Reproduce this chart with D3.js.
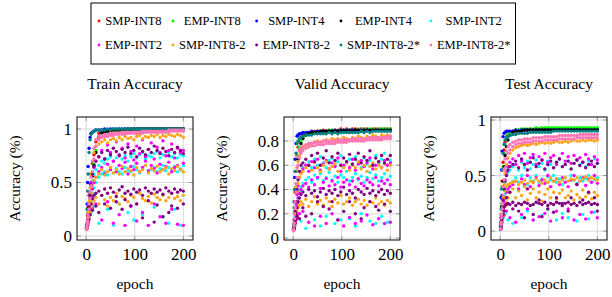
<!DOCTYPE html>
<html><head><meta charset="utf-8">
<script src="https://cdn.jsdelivr.net/npm/d3@7"></script>
<style>body{margin:0;background:#fff} svg{display:block}</style>
</head><body><svg id="chart" width="612" height="297"></svg>
<script>
const epochs = [1,2,3,4,6,8,10,13,16,20, 26,32,38,44,50,56,62,68,74,80, 86,92,98,104,110,116,122,128,134,140, 146,152,158,164,170,176,182,188,194,200];

const seriesNames = ["SMP-INT8","EMP-INT8","SMP-INT4","EMP-INT4","SMP-INT2","EMP-INT2","SMP-INT8-2","EMP-INT8-2","SMP-INT8-2*","EMP-INT8-2*"];
const seriesColors = ["#ff0000","#00ff00","#0000ff","#000000","#00ffff","#ff00ff","#ffa51a","#800080","#008080","#ff74b4"];
const xTicks = [0, 100, 200];

// ---- train accuracy (each series = list of runs) ----
const trSMP8 = [[.08,.12,.19,.27,.38,.49,.58,.68,.76,.88, .96,.97,.98,.98,.99,.99,.99,.99,.99,1, .99,1,1,.99,1,1,1,1,1,1, 1,1,1,1,1,1,1,1,1,1]];
const trEMP8 = [[.08,.11,.15,.2,.28,.38,.47,.57,.67,.8, .93,.96,.97,.98,.98,.99,.99,.99,.99,.99, .99,1,.99,1,1,1,1,1,1,1, 1,1,1,1,1,1,1,1,1,1]];
const trSMP4 = [[.1,.3,.5,.65,.82,.92,.96,.97,.98,.99, .99,.99,1,.99,1,1,1,1,1,1, 1,1,1,1,1,1,1,1,1,1, 1,1,1,1,1,1,1,1,1,1]];
const trEMP4 = [[.07,.1,.14,.19,.27,.35,.45,.56,.66,.78, .92,.96,.97,.98,.98,.99,.99,.99,.99,.99, 1,.99,1,1,1,1,1,1,1,1, 1,1,1,1,1,1,1,1,1,1]];
const trSMP2 = [
  [.08,.12,.17,.22,.3,.38,.45,.52,.58,.62, .66,.7,.68,.72,.74,.7,.73,.76,.72,.75, .7,.74,.77,.73,.76,.78,.72,.75,.74,.77, .79,.73,.76,.75,.78,.74,.77,.73,.76,.75],
  [.07,.1,.13,.17,.22,.28,.33,.4,.45,.5, .55,.58,.6,.57,.62,.59,.63,.6,.58,.64, .61,.6,.65,.62,.59,.63,.66,.6,.62,.64, .6,.63,.66,.61,.64,.62,.65,.6,.63,.66],
  [.07,.09,.12,null,.18,null,.22,null,.28,null, .12,null,null,.25,null,.1,null,.3,null,null, .22,null,.15,null,null,.2,null,.1,null,.27, null,null,.18,null,.12,null,.25,null,.1,null]];
const trEMP2 = [
  [.08,.11,.15,.21,.3,.4,.5,.58,.64,.7, .74,.8,.72,.85,.78,.7,.88,.76,.82,.73, .86,.79,.71,.84,.77,.9,.74,.81,.87,.72, .83,.78,.89,.75,.8,.86,.73,.82,.78,.8],
  [.07,.09,.13,.17,.23,.3,.37,.44,.5,.55, .6,.64,.58,.67,.62,.7,.6,.66,.63,.69, .58,.65,.62,.68,.6,.64,.7,.61,.66,.63, .59,.67,.62,.65,.69,.6,.64,.66,.62,.68],
  [.07,.09,.11,.14,null,.2,null,.26,null,.3, null,.15,null,.32,null,.12,null,.2,null,.1, null,.28,null,.14,null,.22,null,.1,null,.3, null,.18,null,.12,null,.25,null,.11,null,.1]];
const trSMP82 = [
  [.07,.1,.15,.22,.32,.45,.58,.7,.78,.84, .86,.88,.9,.87,.9,.91,.89,.92,.9,.93, .91,.92,.9,.93,.94,.91,.93,.92,.94,.93, .95,.92,.94,.93,.95,.94,.93,.95,.94,.92],
  [.07,.09,.13,.18,.25,.33,.4,.47,.52,.55, .58,.62,.57,.6,.64,.59,.62,.58,.65,.6, .63,.61,.57,.64,.6,.62,.66,.59,.63,.61, .65,.6,.62,.64,.58,.63,.61,.65,.62,.6],
  [.06,.08,.1,.14,.18,.22,.26,.3,.33,.36, .3,.38,.34,.28,.36,.33,.4,.3,.37,.35, .32,.38,.36,.3,.4,.35,.33,.37,.31,.39, .36,.34,.38,.33,.36,.4,.35,.37,.33,.38]];
const trEMP82 = [
  [.07,.1,.14,.2,.28,.38,.48,.58,.65,.7, .74,.78,.72,.8,.76,.82,.79,.75,.81,.78, .83,.77,.8,.74,.82,.79,.76,.81,.78,.84, .8,.77,.82,.79,.75,.81,.78,.83,.8,.77],
  [.07,.09,.12,.15,.2,.25,.3,.35,.38,.4, .42,.38,.44,.4,.45,.41,.37,.43,.46,.4, .42,.39,.44,.41,.43,.38,.45,.42,.4,.44, .41,.43,.39,.45,.42,.4,.44,.41,.43,.42],
  [.07,.08,.1,.13,.16,.2,null,.24,null,.28, .22,null,.3,null,.26,null,.32,null,.25,.34, null,.28,null,.3,null,.17,null,.33,null,.13, .29,null,.18,null,.22,.28,null,.26,null,.3]];
const trSMP82s = [[.1,.25,.42,.58,.78,.9,.95,.97,.98,.99, .99,.99,.99,1,.99,1,1,1,1,1, 1,1,1,1,1,1,1,1,1,1, 1,1,1,1,1,1,1,1,1,1]];
const trEMP82s = [
  [.07,.1,.14,.2,.3,.42,.55,.7,.82,.9, .93,.94,.95,.95,.96,.96,.96,.96,.97,.97, .97,.97,.97,.97,.97,.98,.98,.98,.98,.98, .98,.98,.98,.98,.99,.99,.99,.99,.99,.99],
  [.06,.08,.12,.17,.25,.35,.47,.6,.72,.84, .9,.92,.93,.93,.94,.94,.95,.95,.95,.95, .96,.96,.96,.96,.96,.96,.97,.97,.97,.97, .97,.97,.97,.97,.97,.98,.98,.98,.98,.98]];

// ---- valid accuracy ----
const vaSMP8 = [[.08,.15,.25,.38,.55,.68,.75,.8,.83,.85, .86,.87,.87,.88,.88,.88,.89,.88,.89,.89, .89,.89,.9,.89,.9,.89,.9,.9,.89,.9, .9,.9,.89,.9,.9,.9,.9,.9,.9,.9]];
const vaEMP8 = [[.07,.12,.2,.3,.45,.58,.68,.75,.8,.83, .85,.86,.87,.87,.88,.88,.88,.88,.89,.89, .89,.88,.89,.89,.89,.89,.89,.89,.9,.89, .9,.89,.9,.9,.89,.9,.9,.9,.9,.9]];
const vaSMP4 = [[.1,.3,.5,.65,.78,.84,.85,.86,.86,.87, .87,.87,.88,.87,.88,.88,.88,.88,.88,.88, .89,.88,.89,.88,.89,.89,.89,.89,.89,.89, .89,.89,.89,.89,.89,.89,.89,.89,.89,.89]];
const vaEMP4 = [[.07,.12,.2,.3,.42,.55,.65,.72,.78,.82, .85,.86,.87,.87,.87,.88,.88,.88,.88,.88, .88,.88,.88,.89,.88,.89,.88,.89,.89,.88, .89,.89,.89,.89,.89,.89,.89,.89,.89,.89]];
const vaSMP2 = [
  [.07,.1,.15,.21,.28,.36,.43,.5,.55,.58, .6,.63,.58,.65,.6,.67,.62,.58,.64,.66, .6,.63,.68,.59,.62,.65,.6,.67,.63,.58, .66,.61,.64,.6,.68,.62,.65,.7,.6,.64],
  [.07,.09,.12,.17,.22,.28,.33,.38,.42,.45, .48,.5,.46,.52,.49,.53,.47,.5,.54,.48, .51,.46,.52,.5,.55,.47,.5,.53,.48,.51, .46,.5,.54,.49,.52,.47,.5,.53,.48,.51],
  [.07,.09,.11,null,.16,null,.2,null,.14,null, .08,null,null,.15,null,.1,null,.18,null,null, .12,null,.15,null,null,.16,null,.1,null,.2, null,null,.14,null,.12,null,.18,null,.13,null]];
const vaEMP2 = [
  [.07,.1,.15,.2,.28,.36,.43,.5,.54,.57, .6,.55,.63,.58,.65,.56,.61,.64,.57,.62, .59,.66,.55,.6,.63,.58,.65,.56,.61,.64, .59,.62,.66,.57,.6,.63,.58,.64,.6,.62],
  [.07,.09,.12,.16,.22,.28,.33,.37,.4,.43, .45,.42,.48,.44,.5,.41,.46,.49,.43,.47, .44,.5,.42,.46,.48,.44,.47,.42,.49,.45, .43,.48,.46,.44,.5,.43,.47,.45,.48,.44],
  [.07,.08,.1,.13,null,.17,null,.2,null,.22, null,.13,null,.1,null,.18,null,.12,null,.2, null,.15,null,.1,null,.17,null,.12,null,.14, null,.19,null,.11,null,.16,null,.12,null,.13]];
const vaSMP82 = [
  [.07,.12,.2,.3,.42,.55,.63,.68,.72,.74, .76,.77,.78,.79,.8,.79,.8,.81,.8,.82, .81,.82,.8,.83,.82,.81,.83,.82,.84,.83, .82,.84,.83,.85,.84,.83,.85,.84,.85,.84],
  [.07,.1,.15,.22,.3,.38,.45,.5,.53,.55, .58,.6,.56,.62,.58,.55,.6,.63,.57,.59, .61,.55,.6,.58,.62,.56,.6,.58,.63,.57, .6,.55,.59,.62,.57,.6,.58,.61,.56,.6],
  [.07,.09,.12,.15,.19,.22,.25,.27,.3,.28, .32,.26,.3,.34,.28,.31,.27,.33,.3,.26, .32,.29,.35,.28,.3,.33,.27,.3,.32,.28, .31,.27,.3,.29,.33,.28,.3,.27,.31,.29]];
const vaEMP82 = [
  [.07,.1,.15,.22,.3,.4,.48,.55,.6,.62, .65,.6,.68,.63,.7,.6,.66,.72,.62,.67, .64,.7,.6,.66,.63,.69,.61,.65,.7,.62, .67,.64,.72,.6,.66,.63,.68,.62,.65,.68],
  [.07,.09,.12,.16,.2,.25,.3,.33,.36,.38, .35,.4,.37,.39,.34,.38,.41,.36,.39,.37, .4,.35,.38,.42,.36,.39,.37,.33,.4,.38, .36,.41,.37,.39,.35,.38,.4,.36,.39,.37],
  [.07,.08,.1,.12,.15,.18,null,.16,null,.25, .18,null,.2,null,.3,null,.26,null,.24,.3, null,.15,null,.22,null,.3,null,.2,null,.16, .25,null,.3,null,.26,.23,null,.28,null,.22]];
const vaSMP82s = [[.1,.25,.4,.55,.7,.78,.8,.82,.83,.84, .85,.85,.85,.86,.86,.86,.86,.86,.87,.86, .87,.86,.87,.87,.87,.87,.87,.87,.87,.88, .87,.88,.87,.88,.88,.88,.88,.88,.88,.88]];
const vaEMP82s = [
  [.07,.12,.2,.3,.45,.58,.67,.72,.74,.76, .77,.78,.78,.79,.79,.79,.8,.8,.8,.8, .8,.81,.81,.81,.81,.81,.82,.82,.82,.82, .82,.82,.83,.83,.83,.83,.83,.83,.84,.84],
  [.06,.1,.16,.25,.38,.5,.6,.66,.7,.72, .74,.75,.76,.76,.77,.77,.77,.78,.78,.78, .78,.79,.79,.79,.79,.8,.8,.8,.8,.8, .8,.81,.81,.81,.81,.81,.81,.82,.82,.82]];

// ---- test accuracy ----
const teSMP8 = [[.05,.15,.3,.45,.62,.73,.8,.85,.87,.89, .9,.9,.91,.91,.91,.91,.92,.91,.92,.92, .92,.92,.92,.92,.92,.92,.92,.92,.92,.92, .92,.92,.92,.92,.92,.92,.92,.92,.92,.92]];
const teEMP8 = [[.04,.12,.25,.4,.58,.7,.78,.84,.87,.89, .9,.91,.91,.92,.92,.92,.92,.92,.93,.92, .93,.93,.93,.93,.93,.93,.93,.93,.93,.93, .93,.93,.93,.93,.93,.93,.93,.93,.93,.93]];
const teSMP4 = [[.08,.3,.55,.72,.85,.88,.89,.9,.9,.9, .9,.91,.9,.91,.91,.91,.91,.91,.91,.91, .91,.91,.91,.91,.91,.91,.91,.91,.91,.91, .91,.91,.91,.91,.91,.91,.91,.91,.91,.91]];
const teEMP4 = [[.05,.12,.22,.32,.45,.58,.68,.76,.82,.86, .89,.9,.9,.9,.91,.91,.91,.91,.91,.91, .91,.91,.91,.91,.91,.91,.91,.91,.91,.91, .91,.91,.91,.91,.91,.91,.91,.91,.91,.91]];
const teSMP2 = [
  [.03,.07,.13,.2,.28,.37,.44,.5,.53,.55, .58,.6,.55,.62,.57,.63,.56,.6,.64,.58, .61,.55,.63,.6,.57,.62,.65,.58,.6,.63, .56,.61,.64,.6,.62,.58,.63,.6,.65,.61],
  [.03,.06,.1,.15,.22,.28,.33,.37,.4,.43, .45,.48,.44,.5,.46,.42,.48,.45,.5,.44, .47,.43,.49,.46,.5,.44,.47,.42,.48,.45, .5,.46,.43,.48,.45,.47,.5,.44,.46,.48],
  [.03,.05,.08,null,.12,null,.16,null,.1,null, .07,null,null,.12,null,.18,null,.1,null,null, .14,null,.2,null,null,.1,null,.16,null,.12, null,null,.09,null,.15,null,.11,null,.17,null]];
const teEMP2 = [
  [.03,.07,.13,.2,.28,.38,.46,.53,.58,.62, .65,.6,.68,.63,.7,.61,.66,.69,.6,.67, .64,.7,.62,.66,.68,.6,.65,.7,.63,.67, .61,.68,.64,.66,.62,.69,.65,.6,.67,.64],
  [.03,.06,.1,.15,.2,.26,.3,.35,.38,.4, .42,.45,.38,.47,.42,.5,.4,.44,.48,.41, .46,.43,.5,.4,.45,.47,.42,.48,.44,.4, .46,.5,.42,.45,.48,.41,.47,.44,.5,.43],
  [.02,.05,.08,.1,null,.14,null,.18,null,.12, null,.08,null,.15,null,.2,null,.1,null,.13, null,.16,null,.09,null,.18,null,.12,null,.2, null,.1,null,.15,null,.11,null,.17,null,.12]];
const teSMP82 = [
  [.02,.06,.12,.2,.3,.42,.52,.6,.66,.7, .73,.75,.76,.77,.78,.77,.78,.79,.78,.79, .8,.79,.8,.79,.8,.81,.8,.8,.81,.8, .81,.82,.81,.81,.82,.81,.82,.82,.81,.82],
  [.02,.05,.1,.15,.22,.3,.36,.4,.42,.43, .44,.45,.42,.44,.46,.43,.45,.44,.47,.45, .43,.46,.44,.48,.45,.47,.44,.46,.48,.45, .47,.46,.48,.45,.47,.49,.46,.48,.47,.46],
  [.02,.04,.07,.1,.14,.18,.22,.26,.3,.35, .38,.3,.36,.32,.4,.28,.34,.38,.3,.35, .27,.33,.38,.3,.35,.29,.34,.37,.3,.32, .36,.28,.33,.3,.37,.31,.34,.29,.35,.32]];
const teEMP82 = [
  [.02,.06,.12,.2,.28,.38,.45,.5,.55,.58, .6,.63,.57,.65,.6,.55,.62,.66,.58,.61, .64,.56,.6,.63,.57,.62,.65,.58,.6,.63, .56,.61,.64,.59,.62,.57,.6,.63,.58,.61],
  [.02,.05,.1,.15,.2,.22,.23,.24,.25,.24, .26,.23,.25,.24,.26,.25,.23,.24,.26,.25, .24,.26,.23,.25,.24,.26,.25,.23,.25,.26, .24,.25,.23,.26,.24,.25,.26,.24,.25,.24],
  [.02,.04,.08,.12,.15,.18,null,.3,null,.35, .2,null,.18,null,.12,.38,null,.15,null,.28, .13,null,.2,null,.17,.3,null,.25,null,.18, .3,null,.42,null,.28,null,.35,null,.3,.18]];
const teSMP82s = [[.05,.2,.38,.55,.7,.78,.82,.84,.85,.86, .87,.87,.88,.88,.88,.88,.89,.89,.89,.89, .89,.89,.89,.89,.9,.9,.9,.9,.9,.9, .9,.9,.9,.9,.9,.9,.9,.9,.9,.9]];
const teEMP82s = [
  [.02,.08,.15,.25,.4,.55,.65,.72,.76,.78, .8,.81,.82,.82,.83,.83,.83,.84,.84,.84, .84,.85,.85,.85,.85,.85,.86,.86,.86,.86, .86,.86,.86,.87,.87,.87,.87,.87,.87,.87],
  [.02,.06,.12,.2,.32,.46,.57,.65,.7,.73, .76,.78,.79,.79,.8,.8,.8,.81,.81,.81, .81,.82,.82,.82,.82,.82,.83,.83,.83,.83, .83,.83,.84,.84,.84,.84,.84,.84,.84,.84]];

const panels = [
  {title: "Train Accuracy", left: 77, yDomain: [-0.037, 1.112], yTicks: [0, 0.5, 1],
   data: [trSMP8, trEMP8, trSMP4, trEMP4, trSMP2, trEMP2, trSMP82, trEMP82, trSMP82s, trEMP82s]},
  {title: "Valid Accuracy", left: 284, yDomain: [-0.016, 0.998], yTicks: [0, 0.2, 0.4, 0.6, 0.8],
   data: [vaSMP8, vaEMP8, vaSMP4, vaEMP4, vaSMP2, vaEMP2, vaSMP82, vaEMP82, vaSMP82s, vaEMP82s]},
  {title: "Test Accuracy", left: 491, yDomain: [-0.08, 1.027], yTicks: [0, 0.5, 1],
   data: [teSMP8, teEMP8, teSMP4, teEMP4, teSMP2, teEMP2, teSMP82, teEMP82, teSMP82s, teEMP82s]}
];

const svg = d3.select("#chart");
const font = "'Liberation Serif', 'DejaVu Serif', serif";
const boxW = 116, boxTop = 117, boxH = 123;
const xDomain = [-18.9, 219.9];
const labelSize = 15.5;

panels.forEach(p => {
  const x = d3.scaleLinear().domain(xDomain).range([p.left, p.left + boxW]);
  const y = d3.scaleLinear().domain(p.yDomain).range([boxTop + boxH, boxTop]);
  const g = svg.append("g");

  // grid
  g.selectAll(".gx").data(xTicks).join("line")
    .attr("x1", d => x(d)).attr("x2", d => x(d))
    .attr("y1", boxTop).attr("y2", boxTop + boxH)
    .attr("stroke", "#cfcfcf").attr("stroke-width", 0.8);
  g.selectAll(".gy").data(p.yTicks).join("line")
    .attr("x1", p.left).attr("x2", p.left + boxW)
    .attr("y1", d => y(d)).attr("y2", d => y(d))
    .attr("stroke", "#cfcfcf").attr("stroke-width", 0.8);

  // points, drawn in legend order
  p.data.forEach((runs, si) => {
    runs.forEach(run => {
      g.append("g").attr("fill", seriesColors[si])
        .selectAll("circle")
        .data(run.map((v, i) => [epochs[i], v]).filter(d => d[1] != null))
        .join("circle")
        .attr("cx", d => x(d[0])).attr("cy", d => y(d[1])).attr("r", 1.7);
    });
  });

  // inner tick marks on all sides
  const t = 4;
  xTicks.forEach(d => {
    g.append("line").attr("x1", x(d)).attr("x2", x(d)).attr("y1", boxTop + boxH).attr("y2", boxTop + boxH - t);
    g.append("line").attr("x1", x(d)).attr("x2", x(d)).attr("y1", boxTop).attr("y2", boxTop + t);
  });
  p.yTicks.forEach(d => {
    g.append("line").attr("x1", p.left).attr("x2", p.left + t).attr("y1", y(d)).attr("y2", y(d));
    g.append("line").attr("x1", p.left + boxW).attr("x2", p.left + boxW - t).attr("y1", y(d)).attr("y2", y(d));
  });
  g.selectAll("line:not([stroke])").attr("stroke", "#888").attr("stroke-width", 0.8);

  // frame
  g.append("rect").attr("x", p.left).attr("y", boxTop).attr("width", boxW).attr("height", boxH)
    .attr("fill", "none").attr("stroke", "#000").attr("stroke-width", 1);

  // tick labels via axes
  const ax = g.append("g").attr("transform", `translate(0,${boxTop + boxH})`)
    .call(d3.axisBottom(x).tickValues(xTicks).tickSize(0).tickPadding(8).tickFormat(d => String(d)));
  const ay = g.append("g").attr("transform", `translate(${p.left},0)`)
    .call(d3.axisLeft(y).tickValues(p.yTicks).tickSize(0).tickPadding(5).tickFormat(d => String(d)));
  [ax, ay].forEach(a => {
    a.select(".domain").remove();
    a.selectAll("text").attr("font-family", font).attr("font-size", 17).attr("fill", "#000");
  });

  // title and labels
  g.append("text").attr("x", p.left + boxW / 2).attr("y", 89).attr("text-anchor", "middle")
    .attr("font-family", font).attr("font-size", labelSize).text(p.title);
  g.append("text").attr("x", p.left + boxW / 2).attr("y", 289).attr("text-anchor", "middle")
    .attr("font-family", font).attr("font-size", labelSize).text("epoch");
  g.append("text").attr("transform", `translate(${p.left - 57},${boxTop + boxH / 2}) rotate(-90)`)
    .attr("text-anchor", "middle").attr("font-family", font).attr("font-size", labelSize).text("Accuracy (%)");
});

// legend: 5 columns x 2 rows, bullet then centered text
const leg = svg.append("g");
const legFont = 12.5, legLeft = 91, legTop = 3, legBottom = 64;
const rowsY = [25, 49];
const measure = leg.append("text").attr("font-family", font).attr("font-size", legFont);
const widths = seriesNames.map(n => { measure.text(n); return measure.node().getComputedTextLength(); });
measure.remove();
let cx = legLeft + 5;
for (let c = 0; c < 5; c++) {
  const tw = Math.max(widths[c], widths[c + 5]);
  [c, c + 5].forEach((si, r) => {
    leg.append("circle").attr("cx", cx + 3).attr("cy", rowsY[r] - 4).attr("r", 1.4).attr("fill", seriesColors[si]);
    leg.append("text").attr("x", cx + 9 + tw / 2).attr("y", rowsY[r]).attr("text-anchor", "middle")
      .attr("font-family", font).attr("font-size", legFont).text(seriesNames[si]);
  });
  cx += 9 + tw + 8;
}
leg.insert("rect", ":first-child").attr("x", legLeft).attr("y", legTop)
  .attr("width", cx - legLeft - 3).attr("height", legBottom - legTop)
  .attr("fill", "#fff").attr("stroke", "#000").attr("stroke-width", 1);
</script></body></html>
